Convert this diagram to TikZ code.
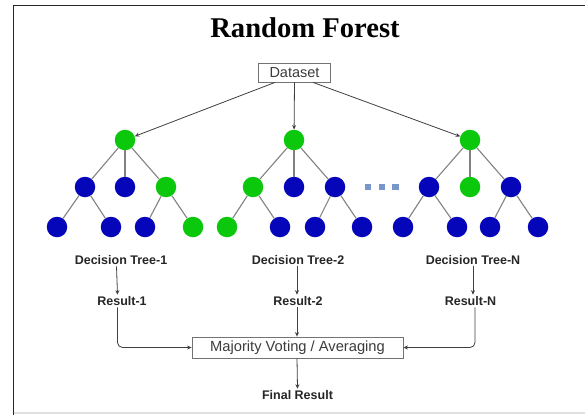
\documentclass[tikz,border=0pt]{standalone}
\usepackage{fontspec}
\setmainfont{Liberation Sans}
\newfontfamily\titlefont{Liberation Serif}
\usetikzlibrary{arrows.meta,calc}
\definecolor{tgreen}{RGB}{12,200,12}
\definecolor{tblue}{RGB}{5,5,185}
\definecolor{dotblue}{RGB}{120,150,200}
\definecolor{edgegray}{RGB}{130,130,130}
\definecolor{txtgray}{RGB}{60,60,60}
\begin{document}
\begin{tikzpicture}[x=1pt,y=-1pt,
 gn/.style={circle,fill=tgreen,minimum size=20.5pt,inner sep=0},
 bn/.style={circle,fill=tblue,minimum size=20.5pt,inner sep=0},
 dotsq/.style={fill=dotblue,minimum size=6.5pt,inner sep=0},
 tedge/.style={draw=edgegray,line width=1.1pt},
 arr/.style={draw=black!75,line width=0.8pt,-{Stealth[length=4.5pt,width=4pt]}},
 lbl/.style={font=\fontsize{12.5}{14}\selectfont\bfseries,text=black!85,inner sep=1.5pt},
 box/.style={draw=black!55,line width=0.8pt,fill=white,text=txtgray,inner sep=0}
]
\useasboundingbox (0,0) rectangle (585,415);
\fill[white] (0,0) rectangle (585,415);
% frame
\draw[black!12,line width=1.5pt] (13.5,413) -- (585,413);
\draw[black!85,line width=1.6pt] (13.5,415) -- (13.5,5.5) -- (585,5.5);

% title
\node[anchor=base,inner sep=0,font=\titlefont\fontsize{28.6}{30}\selectfont\bfseries] (title) at (305,37) {Random Forest};

% dataset
\node[box,minimum width=72pt,minimum height=19pt,font=\fontsize{14.5}{16}\selectfont] (ds) at (294.5,72.5) {Dataset};

% tree 1
\node[gn] (t1r) at (125,140) {};
\node[bn] (t1a) at (85,187) {};
\node[bn] (t1b) at (125,187) {};
\node[gn] (t1c) at (166,187) {};
\node[bn] (t1a1) at (57,227) {};
\node[bn] (t1a2) at (111,227) {};
\node[bn] (t1c1) at (145,227) {};
\node[gn] (t1c2) at (193,227) {};
% tree 2
\node[gn] (t2r) at (294,140) {};
\node[gn] (t2a) at (253,187) {};
\node[bn] (t2b) at (294,187) {};
\node[bn] (t2c) at (335,187) {};
\node[gn] (t2a1) at (227,227) {};
\node[bn] (t2a2) at (280,227) {};
\node[bn] (t2c1) at (315,227) {};
\node[bn] (t2c2) at (362,227) {};
% tree 3
\node[gn] (t3r) at (470,140) {};
\node[bn] (t3a) at (429,187) {};
\node[gn] (t3b) at (470,187) {};
\node[bn] (t3c) at (511,187) {};
\node[bn] (t3a1) at (403,227) {};
\node[bn] (t3a2) at (457,227) {};
\node[bn] (t3c1) at (490,227) {};
\node[bn] (t3c2) at (538,227) {};
% dots
\node[dotsq] (d1) at (368,187) {};
\node[dotsq] (d2) at (382,187) {};
\node[dotsq] (d3) at (395.5,187) {};

% tree edges
\foreach \t in {1,2,3}{
  \draw[tedge] (t\t r) -- (t\t a);
  \draw[tedge] (t\t r) -- (t\t b);
  \draw[tedge] (t\t r) -- (t\t c);
}
\draw[tedge] (t1a) -- (t1a1);
\draw[tedge] (t1a) -- (t1a2);
\draw[tedge] (t1c) -- (t1c1);
\draw[tedge] (t1c) -- (t1c2);
\draw[tedge] (t2a) -- (t2a1);
\draw[tedge] (t2a) -- (t2a2);
\draw[tedge] (t2c) -- (t2c1);
\draw[tedge] (t2c) -- (t2c2);
\draw[tedge] (t3a) -- (t3a1);
\draw[tedge] (t3a) -- (t3a2);
\draw[tedge] (t3c) -- (t3c1);
\draw[tedge] (t3c) -- (t3c2);

% dataset arrows
\draw[arr] ([xshift=-19.5pt]ds.south) -- (t1r);
\draw[arr] (ds.south) -- (t2r);
\draw[arr] ([xshift=18.5pt]ds.south) -- (t3r);

% labels
\node[lbl] (dt1) at (121,260) {Decision Tree-1};
\node[lbl] (dt2) at (298,260) {Decision Tree-2};
\node[lbl] (dtn) at (473,260) {Decision Tree-N};
\node[lbl] (r1) at (122,301) {Result-1};
\node[lbl] (r2) at (298,301) {Result-2};
\node[lbl] (rn) at (470.5,301) {Result-N};
\node[box,minimum width=211pt,minimum height=21pt,font=\fontsize{14.7}{16}\selectfont] (mv) at (297.5,347.5) {Majority Voting / Averaging};
\node[lbl] (fr) at (297.5,395) {Final Result};

\draw[arr] ([xshift=-4.5pt]dt1.south) -- ([xshift=-4.5pt]r1.north);
\draw[arr] ([xshift=-1pt]dt2.south) -- ([xshift=-1pt]r2.north);
\draw[arr] (dtn.south) -- ([xshift=2.5pt]rn.north);
\draw[arr,rounded corners=5pt] ([xshift=-4.5pt]r1.south) |- (mv.west);
\draw[arr,rounded corners=5pt] ([xshift=4.5pt]rn.south) |- (mv.east);
\draw[arr] ([xshift=-1pt]r2.south) -- ([xshift=-0.5pt]mv.north);
\draw[arr] ([xshift=-0.5pt]mv.south) -- (fr.north);
\end{tikzpicture}
\end{document}
